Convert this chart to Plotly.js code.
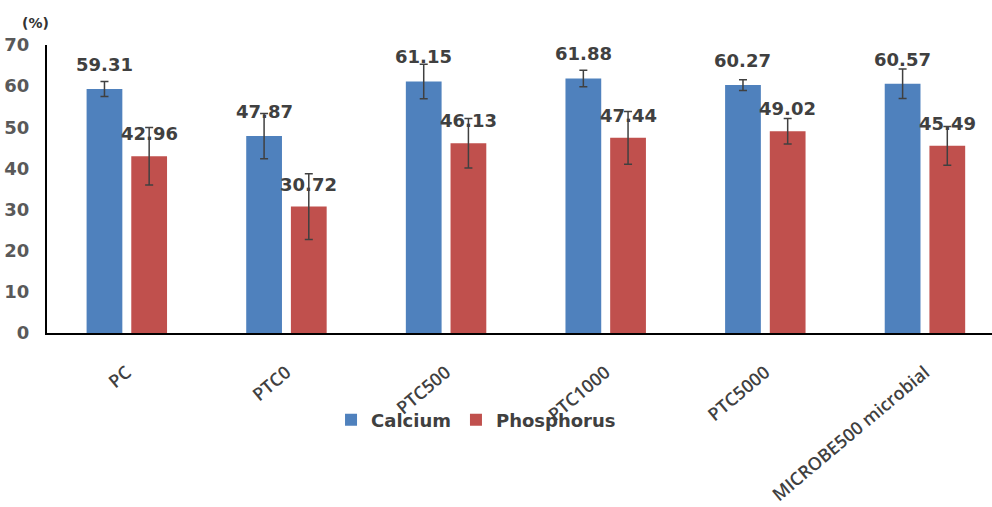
<!DOCTYPE html>
<html>
<head>
<meta charset="utf-8">
<script src="https://cdn.plot.ly/plotly-3.0.1.min.js"></script>
<style>html,body{margin:0;padding:0;background:#fff;}#chart{width:992px;height:507px;}</style>
</head>
<body>
<div id="chart"></div>
<script>
var categories = ["PC", "PTC0", "PTC500", "PTC1000", "PTC5000", "MICROBE500 microbial"];
var calcium = [59.31, 47.87, 61.15, 61.88, 60.27, 60.57];
var phosphorus = [42.96, 30.72, 46.13, 47.44, 49.02, 45.49];
var calciumErr = [1.8, 5.5, 4.2, 2.0, 1.3, 3.6];
var phosphorusErr = [7.0, 8.0, 6.0, 6.4, 3.1, 4.7];
var yTicks = [0, 10, 20, 30, 40, 50, 60, 70];

var numFont = {family: "DejaVu Sans", size: 18, color: "#404040", weight: 700};
var errStyle = {type: "data", visible: true, thickness: 1.5, width: 4, color: "#404040"};

var traces = [
  {type: "bar", name: "Calcium", x: categories, y: calcium,
   marker: {color: "#4F81BD"},
   error_y: Object.assign({array: calciumErr}, errStyle), hoverinfo: "y"},
  {type: "bar", name: "Phosphorus", x: categories, y: phosphorus,
   marker: {color: "#C0504D"},
   error_y: Object.assign({array: phosphorusErr}, errStyle), hoverinfo: "y"}
];

var off = 0.14;
var annotations = [];
categories.forEach(function (c, i) {
  annotations.push({xref: "x", yref: "y", x: i - off, y: calcium[i], text: calcium[i].toFixed(2),
    showarrow: false, yanchor: "bottom", yshift: 12, font: numFont});
  annotations.push({xref: "x", yref: "y", x: i + off, y: phosphorus[i], text: phosphorus[i].toFixed(2),
    showarrow: false, yanchor: "bottom", yshift: 10, font: numFont});
});
annotations.push({xref: "paper", yref: "paper", x: -0.012, y: 1.075, xanchor: "center", yanchor: "middle",
  text: "(%)", showarrow: false, font: {family: "DejaVu Sans", size: 14, color: "#333", weight: 700}});

var layout = {
  width: 992, height: 507,
  margin: {l: 47, r: 0, t: 45, b: 174},
  paper_bgcolor: "#fff", plot_bgcolor: "#fff",
  barmode: "group", bargap: 0.44, bargroupgap: 0.2,
  showlegend: true,
  legend: {orientation: "h", x: 0.454, y: -0.302, xanchor: "center", yanchor: "middle",
    font: {family: "DejaVu Sans", size: 18, color: "#404040", weight: 700},
    traceorder: "normal", itemwidth: 30, bgcolor: "rgba(0,0,0,0)"},
  xaxis: {type: "category", range: [-0.5, 5.42], showgrid: false, zeroline: false,
    showline: true, linecolor: "#000", linewidth: 2, ticks: "outside", ticklen: 20, tickcolor: "rgba(0,0,0,0)",
    tickangle: -40,
    tickfont: {family: "Open Sans", size: 18, color: "#404040", weight: 600}, fixedrange: true},
  yaxis: {range: [0, 70], tickvals: yTicks, ticktext: yTicks.map(String), showgrid: false, zeroline: false,
    showline: true, linecolor: "#000", linewidth: 2, ticks: "outside", ticklen: 12, tickcolor: "rgba(0,0,0,0)",
    tickfont: {family: "DejaVu Sans", size: 18, color: "#595959", weight: 700}, fixedrange: true},
  annotations: annotations
};

Plotly.newPlot("chart", traces, layout, {displayModeBar: false, staticPlot: true});
</script>
</body>
</html>
